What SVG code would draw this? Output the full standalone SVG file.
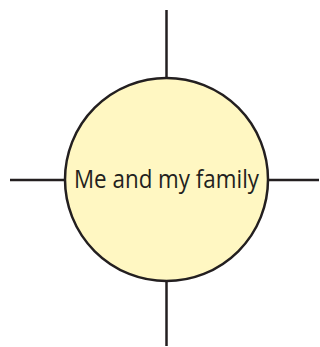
<svg xmlns="http://www.w3.org/2000/svg" width="320" height="347" viewBox="0 0 320 347">
<style>
.conn{stroke:#231f20;stroke-width:2.5;fill:none}
.node{fill:#fff7c2;stroke:#231f20;stroke-width:2.5}
.lbl{font-family:"Open Sans","Noto Sans",sans-serif;font-size:25.5px;fill:#231f20}
</style>
<rect width="320" height="347" fill="#ffffff"/>
<g id="connectors">
<line class="conn" x1="166.5" y1="10" x2="166.5" y2="78"/>
<line class="conn" x1="166.5" y1="281" x2="166.5" y2="346"/>
<line class="conn" x1="10" y1="180" x2="65" y2="180"/>
<line class="conn" x1="268" y1="180" x2="319" y2="180"/>
</g>
<g id="center">
<circle class="node" cx="166.5" cy="179.5" r="101.5"/>
<text class="lbl" x="166.5" y="187.5" text-anchor="middle" textLength="185" lengthAdjust="spacingAndGlyphs">Me and my family</text>
</g>
</svg>
